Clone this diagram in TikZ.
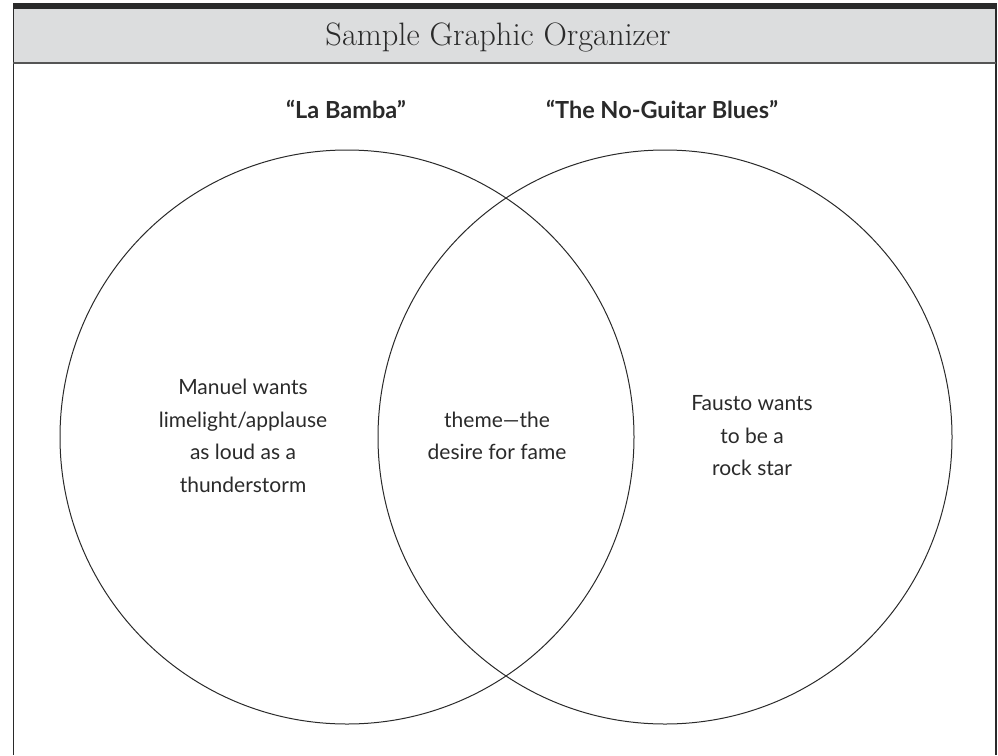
\documentclass[tikz,border=0pt]{standalone}
\usepackage{fontspec}
\newfontfamily\bodyfont{Lato}
\definecolor{headgray}{HTML}{DCDDDE}
\definecolor{ink}{HTML}{2A2A2A}
\tikzset{
  venn/.style={circle, draw=ink, line width=1pt, minimum size=574pt, inner sep=0pt},
  bodytext/.style={align=center, text=ink, font=\bodyfont\fontsize{21}{32.5}\selectfont},
  titletext/.style={text=ink, font=\bodyfont\bfseries\fontsize{23.5}{26}\selectfont},
  headtext/.style={text=ink, font=\fontsize{32.4}{36}\selectfont}
}
\begin{document}
\begin{tikzpicture}[x=1pt,y=-1pt]
\useasboundingbox (0,0) rectangle (998,755);
% frame
\fill[headgray] (13,8) rectangle (996,63);
\fill[ink] (13,3) rectangle (996,8.5);
\draw[ink, line width=1.5pt] (13.5,3) -- (13.5,755);
\draw[ink, line width=2pt] (995.5,3) -- (995.5,755);
\draw[ink!80, line width=1.5pt] (13,63) -- (996,63);
\node[headtext] (head) at (498,37) {Sample Graphic Organizer};
% titles
\node[titletext] (t1) at (346,109) {“La Bamba”};
\node[titletext] (t2) at (662,109) {“The No-Guitar Blues”};
% circles
\node[venn] (L) at (347,437) {};
\node[venn] (R) at (665,437) {};
% texts
\node[bodytext] (lt) at (243,436) {Manuel wants\\limelight/applause\\as loud as a\\thunderstorm};
\node[bodytext] (ct) at (497,436) {theme—the\\desire for fame};
\node[bodytext] (rt) at (752,436) {Fausto wants\\to be a\\rock star};
\end{tikzpicture}
\end{document}
